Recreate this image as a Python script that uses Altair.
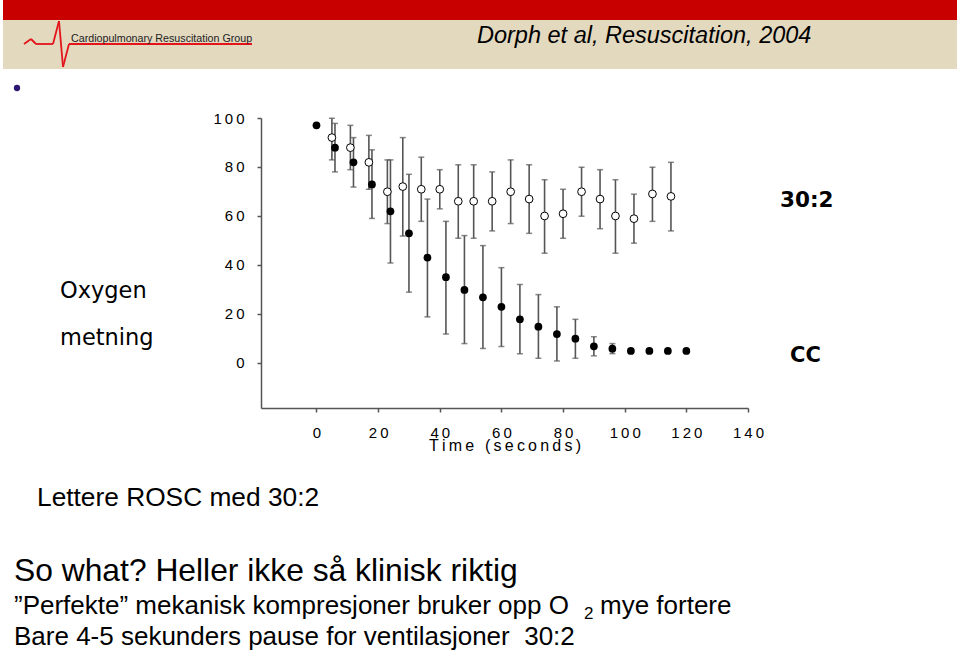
import altair as alt
import pandas as pd

# ---------------- data ----------------
cc_time = [0, 6, 12, 18, 24, 30, 36, 42, 48, 54, 60, 66, 72, 78, 84, 90, 96, 102, 108, 114, 120]
cc_mean = [97.0, 87.9, 81.9, 72.9, 61.9, 52.9, 43.0, 35.0, 29.8, 26.8, 22.9, 17.8, 14.8, 11.8, 9.9, 6.8, 5.8, 4.9, 4.9, 4.9, 4.9]
cc_hi = [None, 97.8, 92.0, 87.0, 82.9, 77.0, 66.9, 57.8, 52.0, 47.9, 38.9, 32.0, 27.9, 22.9, 17.8, 10.7, 7.9, None, None, None, None]
cc_lo = [None, 78.0, 71.8, 59.0, 40.8, 28.9, 18.8, 11.8, 7.9, 5.9, 6.7, 3.8, 1.9, 0.8, 1.9, 2.9, 3.8, None, None, None, None]

r30_time = [5, 11, 17, 23, 28, 34, 40, 46, 51, 57, 63, 69, 74, 80, 86, 92, 97, 103, 109, 115]
r30_mean = [92.0, 87.9, 81.9, 69.9, 72.0, 70.9, 70.9, 66.0, 66.0, 66.0, 69.9, 66.9, 60.0, 60.9, 69.9, 66.9, 60.0, 58.9, 69.0, 68.0]
r30_hi = [99.9, 97.0, 92.9, 82.9, 92.0, 84.0, 78.9, 80.9, 80.9, 78.0, 82.9, 80.9, 74.8, 70.9, 79.9, 78.9, 74.8, 68.9, 79.9, 81.9]
r30_lo = [82.9, 78.9, 70.9, 56.9, 51.8, 57.8, 62.9, 50.9, 50.9, 53.9, 56.9, 52.9, 44.8, 50.9, 59.9, 54.8, 44.8, 48.9, 57.8, 53.9]

x_ticks = [0, 20, 40, 60, 80, 100, 120, 140]
y_ticks = [0, 20, 40, 60, 80, 100]

header_title = "Dorph et al, Resuscitation, 2004"
logo_text = "Cardiopulmonary Resuscitation Group"
ylabel_1 = "Oxygen"
ylabel_2 = "metning"
tag_30 = "30:2"
tag_cc = "CC"
line_rosc = "Lettere ROSC med 30:2"
line_sowhat = "So what? Heller ikke så klinisk riktig"
line_perf = "”Perfekte” mekanisk kompresjoner bruker opp O"
line_perf_sub = "2"
line_perf_end = "mye fortere"
line_bare = "Bare 4-5 sekunders pause for ventilasjoner \u00a030:2"
x_title = "Time (seconds)"

# ---------------- layout ----------------
L, T = 261, 118          # plot origin on the page
W, H = 487, 290          # plot area
THIN = "\u2009"
FONT = "Liberation Sans"
GREY = "#555555"

cc = pd.DataFrame({"t": cc_time, "v": cc_mean, "hi": cc_hi, "lo": cc_lo})
r30 = pd.DataFrame({"t": r30_time, "v": r30_mean, "hi": r30_hi, "lo": r30_lo})
err = pd.concat([cc.dropna(), r30]).reset_index(drop=True)

xscale = alt.Scale(domain=[-18, 140], nice=False, zero=False)
yscale = alt.Scale(domain=[-18.4, 100], nice=False, zero=False)

xaxis = alt.Axis(values=x_ticks, grid=False, domainColor=GREY, domainWidth=1.5,
                 tickColor=GREY, tickWidth=1.5, tickSize=4,
                 labelFont=FONT, labelFontSize=15, labelColor="black", labelPadding=13,
                 labelExpr="join(split(datum.label, ''), '" + THIN + "')",
                 labelFlush=False, labelOverlap=False,
                 title=THIN.join(x_title), titleFont=FONT, titleFontSize=16,
                 titleFontWeight="normal", titleColor="black", titlePadding=-3)
yaxis = alt.Axis(values=y_ticks, grid=False, domainColor=GREY, domainWidth=1.5,
                 tickColor=GREY, tickWidth=1.5, tickSize=4,
                 labelFont=FONT, labelFontSize=15, labelColor="black", labelPadding=13,
                 labelExpr="join(split(datum.label, ''), '" + THIN + "')",
                 labelFlush=False, labelOverlap=False, title=None)

X = alt.X("t:Q", scale=xscale, axis=xaxis)

bars = alt.Chart(err).mark_rule(color=GREY, strokeWidth=1.6).encode(
    x=X, y=alt.Y("lo:Q", scale=yscale, axis=yaxis), y2="hi:Q")
cap_hi = alt.Chart(err).mark_tick(orient="horizontal", color=GREY, size=6, thickness=1.5).encode(
    x=X, y=alt.Y("hi:Q", scale=yscale, axis=yaxis))
cap_lo = alt.Chart(err).mark_tick(orient="horizontal", color=GREY, size=6, thickness=1.5).encode(
    x=X, y=alt.Y("lo:Q", scale=yscale, axis=yaxis))
open_pts = alt.Chart(r30).mark_point(shape="circle", filled=True, fill="white", stroke="black",
                                     strokeWidth=1, size=60, opacity=1).encode(
    x=X, y=alt.Y("v:Q", scale=yscale, axis=yaxis))
full_pts = alt.Chart(cc).mark_point(shape="circle", filled=True, color="black",
                                    size=60, opacity=1).encode(
    x=X, y=alt.Y("v:Q", scale=yscale, axis=yaxis))


def one(label):
    return pd.DataFrame({"label": [label]})


def rect(x1, y1, x2, y2, color):
    return alt.Chart(one("r")).mark_rect(color=color).encode(
        x=alt.value(x1 - L), x2=alt.value(x2 - L), y=alt.value(y1 - T), y2=alt.value(y2 - T))


def seg(x1, y1, x2, y2, color="#e3151b", w=1.8):
    return alt.Chart(one("s")).mark_rule(color=color, strokeWidth=w).encode(
        x=alt.value(x1 - L), x2=alt.value(x2 - L), y=alt.value(y1 - T), y2=alt.value(y2 - T))


def txt(s, px, py, size, font=FONT, weight="normal", style="normal", color="black"):
    return alt.Chart(one(s)).mark_text(align="left", baseline="alphabetic", font=font,
                                       fontSize=size, fontWeight=weight, fontStyle=style,
                                       color=color).encode(
        x=alt.value(px - L), y=alt.value(py - T), text="label:N")


deco = [
    rect(3, 0, 957, 20, "#c80000"),
    rect(3, 20, 957, 69, "#e3d9bf"),
    seg(24, 44, 31, 39), seg(31, 39, 36, 44), seg(36, 44, 53, 44), seg(53, 44, 59, 21),
    seg(59, 21, 63, 67), seg(63, 67, 69, 44), seg(69, 44, 252, 44),
    alt.Chart(one("b")).mark_point(shape="circle", filled=True, color="#2b1670", size=40,
                                   opacity=1).encode(x=alt.value(17 - L), y=alt.value(88 - T)),
]

texts = [
    txt(header_title, 477, 43, 23.5, style="italic"),
    txt(logo_text, 71, 41.5, 10.7, color="#222222"),
    txt(ylabel_1, 60, 298, 22.5, font="DejaVu Sans"),
    txt(ylabel_2, 60, 345, 22.5, font="DejaVu Sans"),
    txt(tag_30, 780, 207, 21.5, font="DejaVu Sans", weight="bold"),
    txt(tag_cc, 790, 362, 21, font="DejaVu Sans", weight="bold"),
    txt(line_rosc, 37, 506, 26.3),
    txt(line_sowhat, 14, 581, 31.8),
    txt(line_perf, 14, 614, 26),
    txt(line_perf_sub, 584, 619, 17),
    txt(line_perf_end, 600, 614, 26),
    txt(line_bare, 14, 645, 26),
]

chart = alt.layer(*deco, bars, cap_hi, cap_lo, open_pts, full_pts, *texts).properties(
    width=W, height=H,
    padding={"left": L, "top": T, "right": 960 - L - W, "bottom": 653 - T - H},
    autosize="none", background="white",
).configure_view(strokeOpacity=0)

chart.save("out.html", embed_options={"renderer": "svg", "actions": False})
